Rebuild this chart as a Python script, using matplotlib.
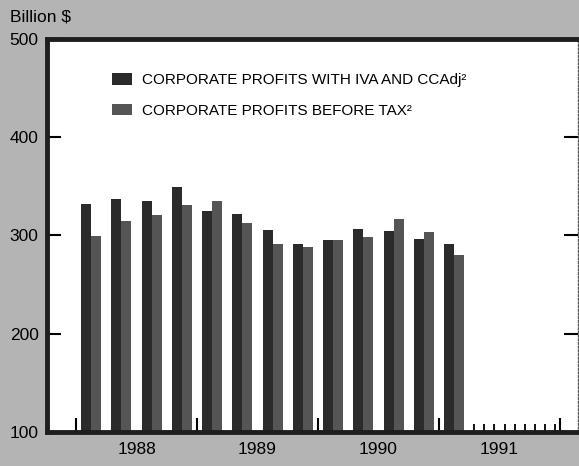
import matplotlib
matplotlib.use("Agg")
import matplotlib.pyplot as plt
import matplotlib.transforms as mtransforms
import numpy as np

# quarterly data, 1988Q1 - 1991Q1 (billion $)
quarters = ["1988Q1", "1988Q2", "1988Q3", "1988Q4",
            "1989Q1", "1989Q2", "1989Q3", "1989Q4",
            "1990Q1", "1990Q2", "1990Q3", "1990Q4", "1991Q1"]
profits_iva_ccadj = [332, 337, 335, 349, 325, 322, 306, 291, 295, 307, 305, 296, 291]
profits_before_tax = [299, 315, 321, 331, 335, 313, 291, 288, 295, 298, 317, 304, 280]
years = [1988, 1989, 1990, 1991]
label_iva = "CORPORATE PROFITS WITH IVA AND CCAdj²"
label_bt = "CORPORATE PROFITS BEFORE TAX²"

bg = "#b4b4b4"
dark = "#2b2b2b"
light = "#555555"
plt.rcParams["font.family"] = ["Liberation Sans", "DejaVu Sans"]

fig = plt.figure(figsize=(5.79, 4.66), dpi=100, facecolor=bg)
ax = fig.add_axes([47/579, 34/466, 531/579, 393/466])
ax.set_facecolor("white")

# x position of each quarter centre
xq = np.array([int(q[:4]) + (int(q[-1]) - 0.5) / 4 for q in quarters])
w = 0.083
ax.bar(xq - w/2, profits_iva_ccadj, width=w, bottom=0, color=dark, label=label_iva, zorder=2)
ax.bar(xq + w/2, profits_before_tax, width=w, bottom=0, color=light, label=label_bt, zorder=2)

ax.set_ylim(100, 500)
ax.set_xlim(1987.76, 1992.149)

ax.set_yticks([100, 200, 300, 400, 500])
ax.tick_params(axis="y", direction="in", length=10, width=1.5, left=True, right=True,
               labelsize=12.5, pad=6, colors="black")
ax.set_xticks(years + [1992])
ax.set_xticklabels([])
months91 = [1991 + (k + 0.5) / 12 for k in range(3, 12)]
ax.set_xticks(months91, minor=True)
ax.tick_params(axis="x", which="major", direction="in", length=10, width=1.5)
ax.tick_params(axis="x", which="minor", direction="in", length=6, width=1.3)

trans = mtransforms.blended_transform_factory(ax.transData, ax.transAxes)
for y in years:
    ax.text(y + 0.5, -0.045, str(y), transform=trans, ha="center", va="center", fontsize=12.5)

for s in ["left", "top", "bottom"]:
    ax.spines[s].set_linewidth(3.5)
    ax.spines[s].set_color("#1e1e1e")
ax.spines["right"].set_linewidth(1)
ax.spines["right"].set_linestyle(":")
ax.spines["right"].set_color("#555555")

fig.text(10/579, 1 - 17/466, "Billion $", ha="left", va="center", fontsize=12.5)

leg = ax.legend(loc="upper left", bbox_to_anchor=(0.122, 0.913), frameon=False,
                prop={"size": 11}, handlelength=1.3, handleheight=0.8,
                handletextpad=0.65, labelspacing=1.07, borderpad=0, borderaxespad=0)

fig.savefig("out.png", dpi=100, facecolor=bg)
